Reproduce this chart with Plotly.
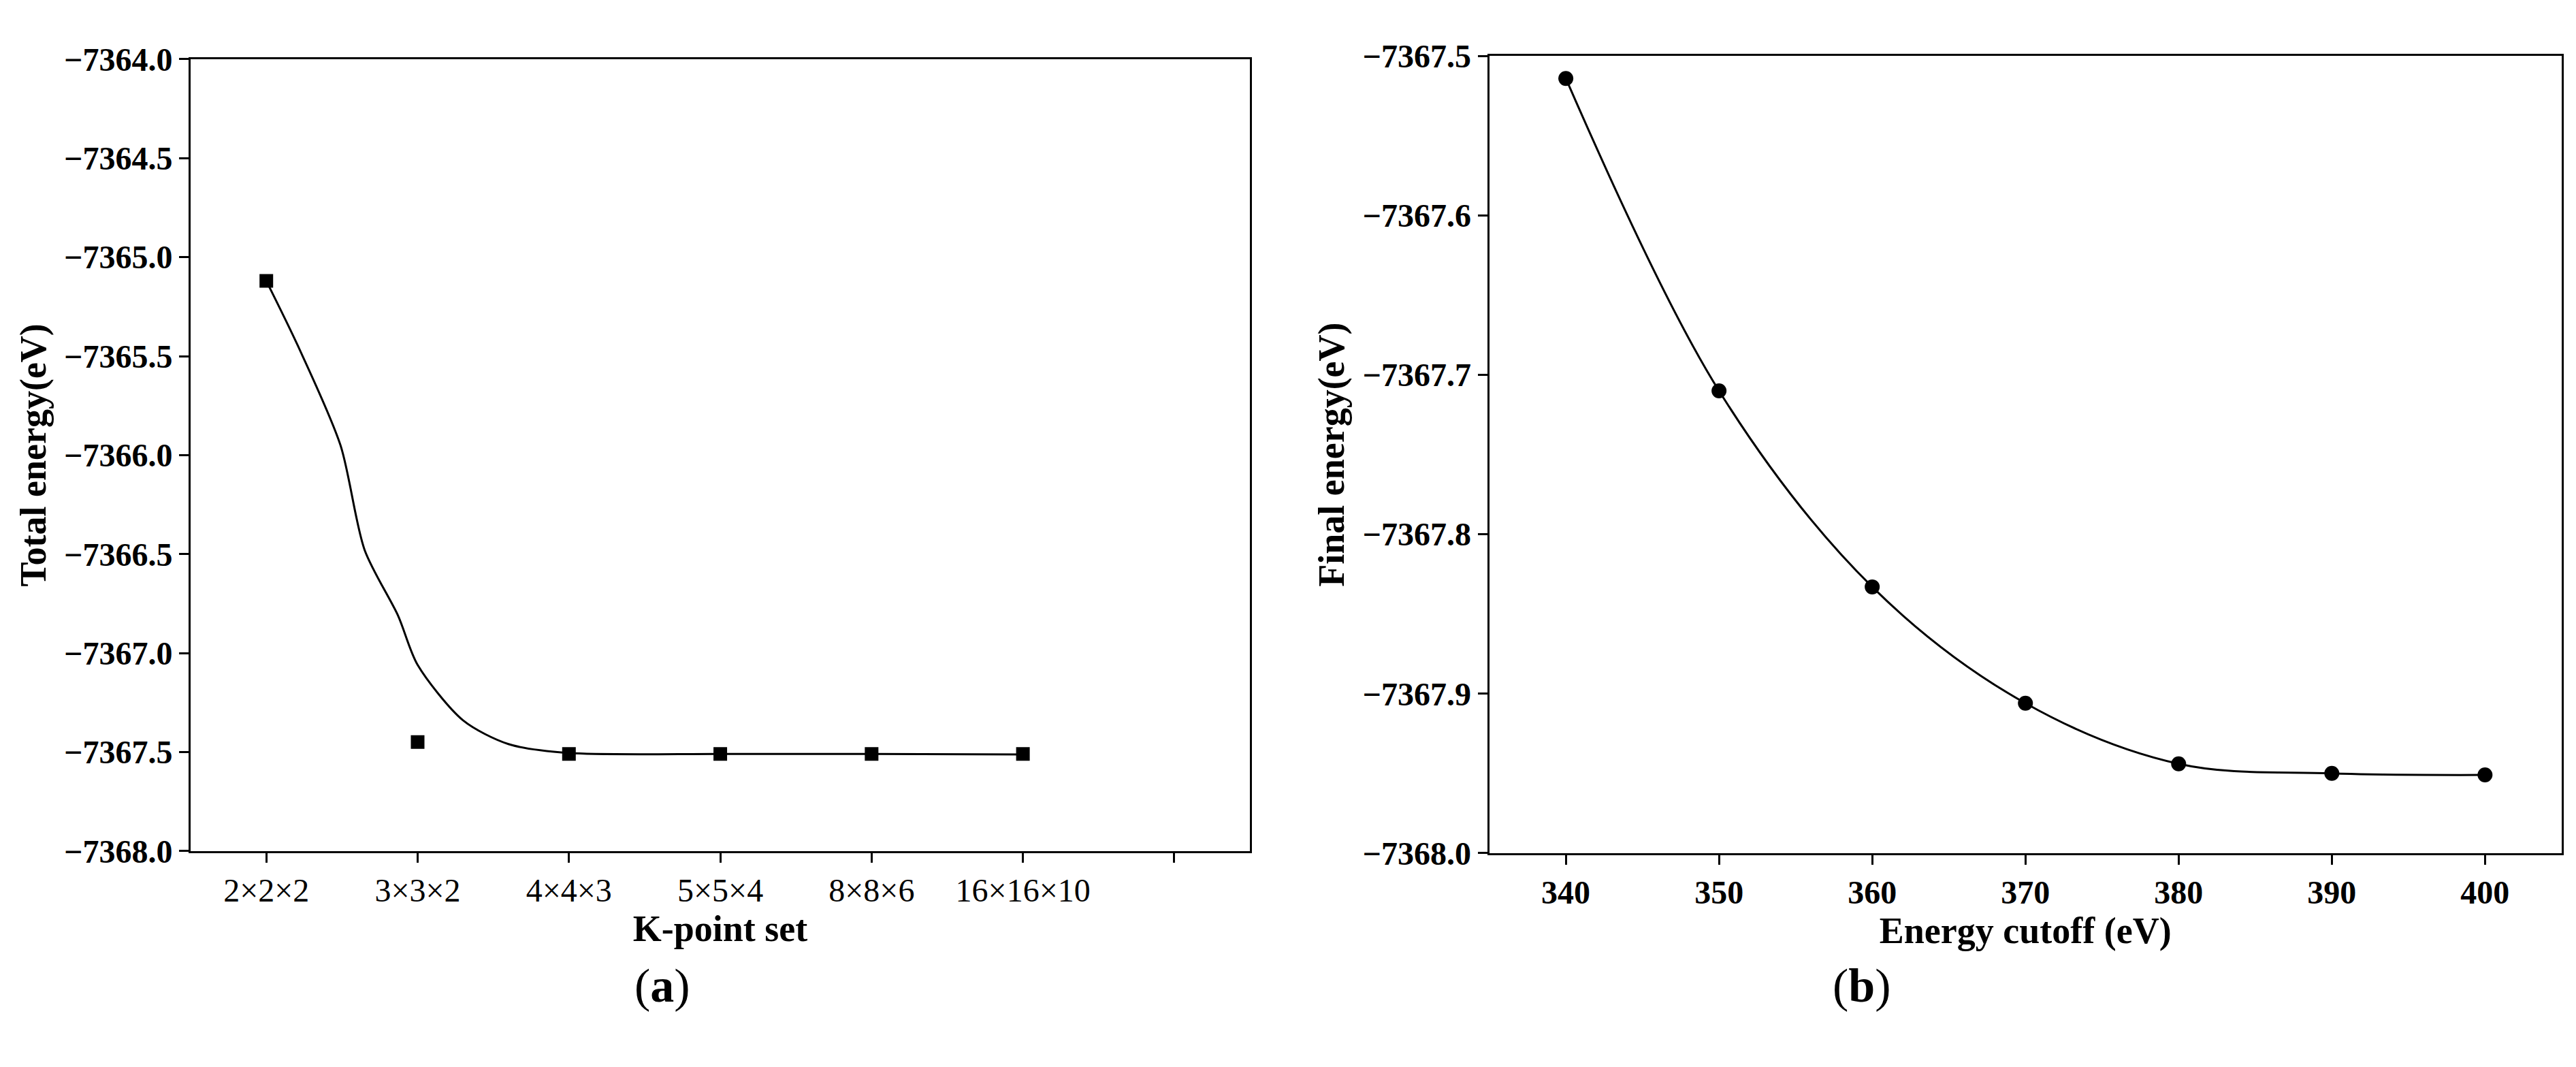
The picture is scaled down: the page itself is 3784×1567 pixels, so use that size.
import plotly.graph_objects as go

k_labels = ["2×2×2", "3×3×2", "4×4×3", "5×5×4", "8×8×6", "16×16×10", ""]
k_pos = [1, 2, 3, 4, 5, 6]
k_energy = [-7365.12, -7367.45, -7367.51, -7367.51, -7367.51, -7367.51]
k_curve_x = [1, 1.21, 1.49, 1.65, 1.87, 2.0, 2.3, 2.6, 3, 4, 5, 6]
k_curve_y = [-7365.12, -7365.45, -7365.95, -7366.48, -7366.81, -7367.06, -7367.34, -7367.46, -7367.505, -7367.51, -7367.51, -7367.512]

cutoff = [340, 350, 360, 370, 380, 390, 400]
final_energy = [-7367.514, -7367.710, -7367.833, -7367.906, -7367.944, -7367.950, -7367.951]

FONT = "Liberation Serif"
fig = go.Figure()
fig.add_trace(go.Scatter(x=k_curve_x, y=k_curve_y, mode="lines", line=dict(color="black", width=3, shape="spline", smoothing=0.8),
                         xaxis="x", yaxis="y", showlegend=False))
fig.add_trace(go.Scatter(x=k_pos, y=k_energy, mode="markers", marker=dict(symbol="square", size=20, color="black"),
                         xaxis="x", yaxis="y", showlegend=False))
fig.add_trace(go.Scatter(x=cutoff, y=final_energy, mode="lines+markers", line=dict(color="black", width=3, shape="spline"),
                         marker=dict(symbol="circle", size=22, color="black"),
                         xaxis="x2", yaxis="y2", showlegend=False))

tickf = dict(family=FONT, size=48, color="black")
titlef = dict(family=FONT, size=54, color="black")
common = dict(showline=True, linecolor="black", linewidth=3, mirror=True, ticks="outside", ticklen=14,
              tickwidth=3, tickcolor="black", showgrid=False, zeroline=False, tickfont=tickf)

fig.update_layout(
    width=3784, height=1567, margin=dict(l=0, r=0, t=0, b=0),
    paper_bgcolor="white", plot_bgcolor="white",
    xaxis=dict(domain=[0.0719, 0.4831], range=[0.5, 7.5], tickvals=list(range(1, 8)), ticktext=k_labels,
               title=dict(text="<b>K-point set</b>", font=titlef, standoff=8), anchor="y",
               tickprefix="<b>", ticksuffix="</b>", **common),
    yaxis=dict(domain=[0.197, 0.965], range=[-7368, -7364], dtick=0.5, tickformat=".1f",
               title=dict(text="<b>Total energy(eV)</b>", font=titlef, standoff=10), anchor="x",
               tickprefix="<b>", ticksuffix="</b>", **common),
    xaxis2=dict(domain=[0.576, 0.9923], range=[335, 405], dtick=10,
                title=dict(text="<b>Energy cutoff (eV)</b>", font=titlef, standoff=8), anchor="y2",
                tickprefix="<b>", ticksuffix="</b>", **common),
    yaxis2=dict(domain=[0.195, 0.968], range=[-7368, -7367.5], dtick=0.1, tickformat=".1f",
                title=dict(text="<b>Final energy(eV)</b>", font=titlef, standoff=10), anchor="x2",
                tickprefix="<b>", ticksuffix="</b>", **common),
    annotations=[
        dict(text="(<b>a</b>)", x=0.2437, y=1-1505/1567, xref="paper", yref="paper", showarrow=False,
             font=dict(family=FONT, size=70, color="black")),
        dict(text="(<b>b</b>)", x=0.7325, y=1-1505/1567, xref="paper", yref="paper", showarrow=False,
             font=dict(family=FONT, size=70, color="black")),
    ],
)
fig.write_html("out.html")
